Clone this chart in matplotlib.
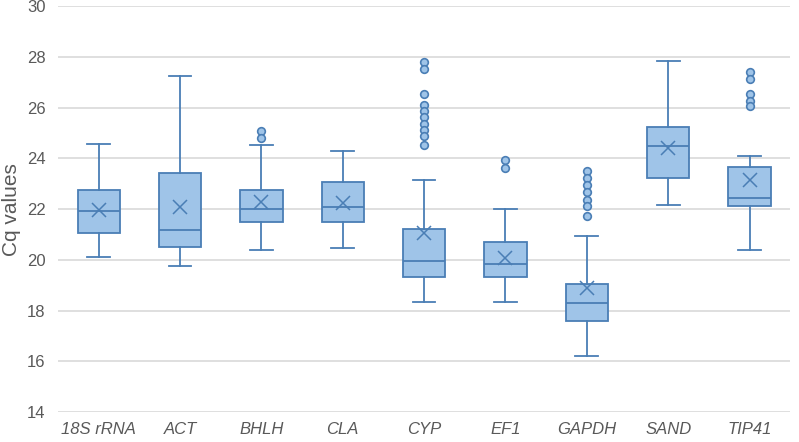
import matplotlib
matplotlib.use("Agg")
import matplotlib.pyplot as plt

plt.rcParams["font.family"] = ["Liberation Sans", "DejaVu Sans"]

genes = ["18S rRNA", "ACT", "BHLH", "CLA", "CYP", "EF1", "GAPDH", "SAND", "TIP41"]
whislo = [20.10, 19.74, 20.38, 20.47, 18.32, 18.33, 16.22, 22.17, 20.40]
q1 = [21.04, 20.51, 21.48, 21.49, 19.33, 19.33, 17.57, 23.24, 22.11]
med = [21.93, 21.17, 21.99, 22.09, 19.94, 19.83, 18.28, 24.47, 22.45]
q3 = [22.76, 23.42, 22.74, 23.05, 21.22, 20.70, 19.04, 25.23, 23.67]
whishi = [24.57, 27.24, 24.53, 24.29, 23.14, 22.01, 20.95, 27.85, 24.10]
means = [21.96, 22.09, 22.29, 22.26, 21.04, 20.06, 18.89, 24.40, 23.13]
fliers = [
    [],
    [],
    [25.09, 24.81],
    [],
    [27.81, 27.52, 26.52, 26.10, 25.88, 25.65, 25.34, 25.11, 24.88, 24.52],
    [23.94, 23.64],
    [23.52, 23.23, 22.95, 22.66, 22.35, 22.12, 21.74],
    [],
    [27.40, 27.13, 26.53, 26.28, 26.06],
]
yticks = [14, 16, 18, 20, 22, 24, 26, 28, 30]

fill = "#9FC4E8"
edge = "#4A7EB5"
txt = "#595959"

stats = []
for i, g in enumerate(genes):
    stats.append(dict(label=g, whislo=whislo[i], q1=q1[i], med=med[i], q3=q3[i],
                      whishi=whishi[i], mean=means[i], fliers=fliers[i]))

fig = plt.figure(figsize=(7.99, 4.42), dpi=100)
ax = fig.add_axes([0.0726, 0.0679, 0.9164, 0.918])
ax.bxp(stats, positions=range(len(genes)), widths=0.52, patch_artist=True,
       showmeans=True, showfliers=True,
       boxprops=dict(facecolor=fill, edgecolor=edge, linewidth=1.3),
       medianprops=dict(color=edge, linewidth=1.3),
       whiskerprops=dict(color=edge, linewidth=1.3),
       capprops=dict(color=edge, linewidth=1.3),
       capwidths=0.28,
       meanprops=dict(marker="x", markeredgecolor=edge, markersize=10, markeredgewidth=1.1),
       flierprops=dict(marker="o", markerfacecolor=fill, markeredgecolor=edge,
                       markersize=5.5, markeredgewidth=1.2))
ax.set_xlim(-0.5, len(genes) - 0.5)
ax.set_ylim(14, 30)
ax.set_yticks(yticks)
ax.yaxis.grid(True, color="#D9D9D9", linewidth=1.2)
ax.set_axisbelow(True)
for s in ax.spines.values():
    s.set_visible(False)
ax.tick_params(axis="both", length=0, colors=txt, labelsize=12)
ax.tick_params(axis="x", pad=7)
ax.tick_params(axis="y", pad=9)
for lab in ax.get_xticklabels():
    lab.set_fontstyle("italic")
ax.set_ylabel("Cq values", fontsize=15, color=txt)
ax.yaxis.set_label_coords(-0.051, 0.5)
fig.savefig("out.png", dpi=100)
